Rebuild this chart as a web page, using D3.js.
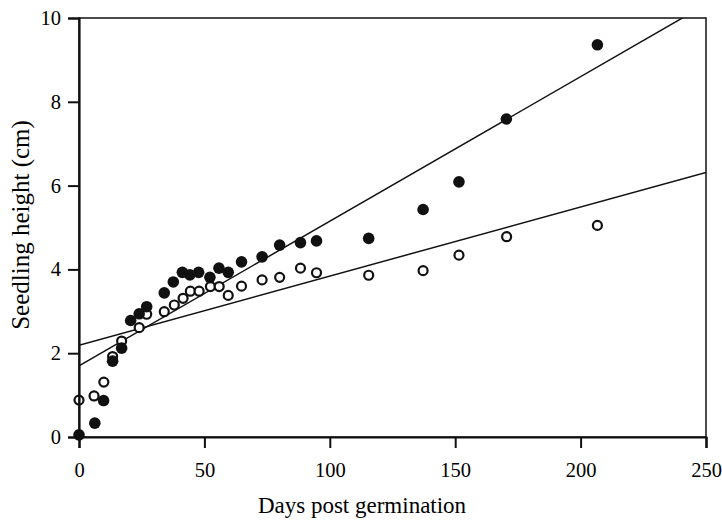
<!DOCTYPE html>
<html>
<head>
<meta charset="utf-8">
<script src="https://cdn.jsdelivr.net/npm/d3@7"></script>
<style>
  body { margin: 0; background: #fff; }
  text { font-family: "Liberation Serif", "Times New Roman", serif; }
</style>
</head>
<body>
<div id="chart"></div>
<script>
// Data
const filledDays = [0, 6.3, 9.8, 13.4, 17, 20.6, 24, 27, 34, 37.6, 41.2, 44.2, 47.7, 52.2, 55.8, 59.5, 64.8, 73, 80, 88.3, 94.7, 115.5, 137.2, 151.5, 170.4, 206.7]
const filledHeight = [0.05, 0.33, 0.87, 1.81, 2.12, 2.78, 2.94, 3.11, 3.44, 3.70, 3.93, 3.87, 3.93, 3.81, 4.03, 3.93, 4.18, 4.30, 4.58, 4.64, 4.68, 4.74, 5.43, 6.09, 7.59, 9.36]

const openDays = [0, 6, 9.9, 13.4, 17, 24, 27, 34, 38, 41.5, 44.4, 47.9, 52.4, 55.9, 59.5, 64.8, 73, 80, 88.3, 94.7, 115.5, 137.2, 151.5, 170.5, 206.7]
const openHeight = [0.88, 0.98, 1.31, 1.92, 2.29, 2.61, 2.93, 2.99, 3.15, 3.31, 3.48, 3.48, 3.59, 3.59, 3.38, 3.60, 3.75, 3.81, 4.03, 3.92, 3.86, 3.97, 4.34, 4.78, 5.05]

// regression lines: [intercept, slope]
const fitFilled = [1.70, 0.0345]
const fitOpen = [2.19, 0.0165]

const xTicks = [0, 50, 100, 150, 200, 250]
const yTicks = [0, 2, 4, 6, 8, 10]

function draw() {
  // Dimensions
  let dimensions = {
    width: 722,
    height: 525,
    margins: { top: 18, right: 16, bottom: 88, left: 79 },
    ctrWidth: 0,
    ctrHeight: 0
  }
  dimensions.ctrWidth = dimensions.width - dimensions.margins.left - dimensions.margins.right
  dimensions.ctrHeight = dimensions.height - dimensions.margins.top - dimensions.margins.bottom

  const svg = d3.select('#chart')
    .append("svg")
    .attr("width", dimensions.width)
    .attr("height", dimensions.height)

  const ctr = svg.append("g")
    .attr("transform", `translate(${dimensions.margins.left}, ${dimensions.margins.top})`)

  // Scales
  const xScale = d3.scaleLinear()
    .domain([0, 250])
    .range([0, dimensions.ctrWidth])

  const yScale = d3.scaleLinear()
    .domain([0, 10])
    .range([dimensions.ctrHeight, 0])

  svg.append("defs").append("clipPath")
    .attr("id", "plot-clip")
    .append("rect")
    .attr("width", dimensions.ctrWidth)
    .attr("height", dimensions.ctrHeight)

  // Fit lines
  const fitLine = fit => [[0, fit[0]], [250, fit[0] + fit[1] * 250]]
  ctr.append("g")
    .attr("clip-path", "url(#plot-clip)")
    .selectAll("line")
    .data([fitFilled, fitOpen])
    .join("line")
    .attr("x1", d => xScale(fitLine(d)[0][0]))
    .attr("y1", d => yScale(fitLine(d)[0][1]))
    .attr("x2", d => xScale(fitLine(d)[1][0]))
    .attr("y2", d => yScale(fitLine(d)[1][1]))
    .attr("stroke", "#111")
    .attr("stroke-width", 1.5)

  // Points
  const openData = openDays.map((d, i) => ({ x: d, y: openHeight[i] }))
  const filledData = filledDays.map((d, i) => ({ x: d, y: filledHeight[i] }))

  ctr.append("g")
    .selectAll("circle")
    .data(openData)
    .join("circle")
    .attr("cx", d => xScale(d.x))
    .attr("cy", d => yScale(d.y))
    .attr("r", 4.5)
    .attr("fill", "#fff")
    .attr("stroke", "#111")
    .attr("stroke-width", 2.2)

  ctr.append("g")
    .selectAll("circle")
    .data(filledData)
    .join("circle")
    .attr("cx", d => xScale(d.x))
    .attr("cy", d => yScale(d.y))
    .attr("r", 5.8)
    .attr("fill", "#111")

  // Frame
  ctr.append("rect")
    .attr("width", dimensions.ctrWidth)
    .attr("height", dimensions.ctrHeight)
    .attr("fill", "none")
    .attr("stroke", "#111")
    .attr("stroke-width", 1.5)

  // Axes
  const xAxis = d3.axisBottom(xScale)
    .tickValues(xTicks)
    .tickSize(11)
    .tickPadding(14)
    .tickFormat(d3.format("d"))

  const yAxis = d3.axisLeft(yScale)
    .tickValues(yTicks)
    .tickSize(11)
    .tickPadding(7)
    .tickFormat(d3.format("d"))

  const xAxisGroup = ctr.append("g")
    .attr("transform", `translate(0, ${dimensions.ctrHeight})`)
    .call(xAxis)
  const yAxisGroup = ctr.append("g")
    .call(yAxis)

  ;[xAxisGroup, yAxisGroup].forEach(g => {
    g.select(".domain").attr("stroke", "#111").attr("stroke-width", 2.2)
    g.selectAll(".tick line").attr("stroke", "#111").attr("stroke-width", 2)
    g.selectAll(".tick text")
      .style("font-family", '"Liberation Serif", serif')
      .style("font-size", "20.5px")
      .attr("fill", "#000")
  })

  // Axis titles
  svg.append("text")
    .attr("x", 362)
    .attr("y", 513)
    .attr("text-anchor", "middle")
    .attr("fill", "#000")
    .style("font-size", "23px")
    .text("Days post germination")

  svg.append("text")
    .attr("transform", `translate(29, 225) rotate(-90)`)
    .attr("text-anchor", "middle")
    .attr("fill", "#000")
    .style("font-size", "25px")
    .text("Seedling height (cm)")
}

draw()
</script>
</body>
</html>
